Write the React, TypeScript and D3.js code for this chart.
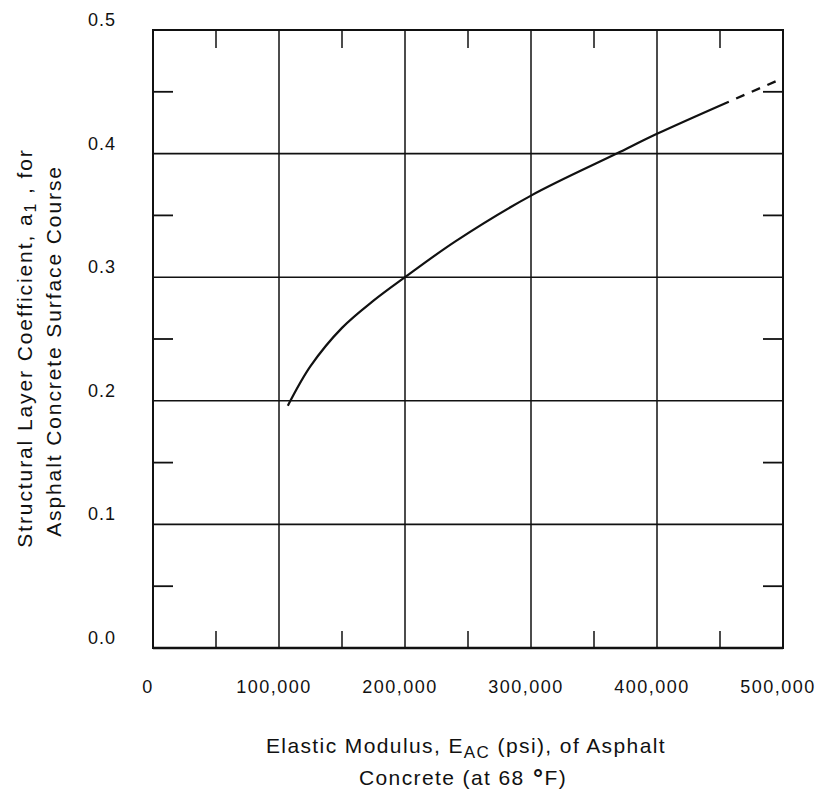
import React from "react";
import * as d3 from "d3";

// values
const modulusSolid = [107000, 125000, 150000, 175000, 200000, 240000, 300000, 368000, 400000, 457000];
const coefSolid = [0.196, 0.228, 0.259, 0.281, 0.3, 0.329, 0.366, 0.4, 0.416, 0.442];
const modulusDashed = [457000, 500000];
const coefDashed = [0.442, 0.461];

const xMajor = [0, 100000, 200000, 300000, 400000, 500000];
const xMinor = [50000, 150000, 250000, 350000, 450000];
const xTickLabels = ["0", "100,000", "200,000", "300,000", "400,000", "500,000"];
const yMajor = [0, 0.1, 0.2, 0.3, 0.4, 0.5];
const yMinor = [0.05, 0.15, 0.25, 0.35, 0.45];
const yTickLabels = ["0.0", "0.1", "0.2", "0.3", "0.4", "0.5"];

const W = 819;
const H = 794;
const font = "'Liberation Sans', Arial, Helvetica, sans-serif";
const ink = "#111";

const App = () => {
    const x = d3.scaleLinear().domain([0, 500000]).range([153, 783]);
    const y = d3.scaleLinear().domain([0, 0.5]).range([648, 30]);

    const line = d3
        .line<number>()
        .x((d, i) => x(modulusSolid[i]))
        .y((d) => y(d))
        .curve(d3.curveCatmullRom.alpha(0.5));

    const dashLine = d3
        .line<number>()
        .x((d, i) => x(modulusDashed[i]))
        .y((d) => y(d));

    const [x0, x1] = x.range();
    const [y0, y1] = y.range();

    return (
        <svg width={W} height={H} style={{ position: "absolute", left: 0, top: 0, background: "#fff" }}>
            {/* grid */}
            {xMajor.slice(1, -1).map((v) => (
                <line key={"gx" + v} x1={x(v)} x2={x(v)} y1={y1} y2={y0} stroke={ink} strokeWidth={1.5} />
            ))}
            {yMajor.slice(1, -1).map((v) => (
                <line key={"gy" + v} x1={x0} x2={x1} y1={y(v)} y2={y(v)} stroke={ink} strokeWidth={1.6} />
            ))}

            {/* minor ticks on all four sides */}
            {xMinor.map((v) => (
                <g key={"mx" + v} stroke={ink} strokeWidth={1.5}>
                    <line x1={x(v)} x2={x(v)} y1={y0} y2={y0 - 17} />
                    <line x1={x(v)} x2={x(v)} y1={y1} y2={y1 + 18} />
                </g>
            ))}
            {yMinor.map((v) => (
                <g key={"my" + v} stroke={ink} strokeWidth={1.8}>
                    <line x1={x0} x2={x0 + 20} y1={y(v)} y2={y(v)} />
                    <line x1={x1} x2={x1 - 20} y1={y(v)} y2={y(v)} />
                </g>
            ))}

            {/* frame */}
            <rect x={x0} y={y1} width={x1 - x0} height={y0 - y1} fill="none" stroke={ink} strokeWidth={2} />
            <line x1={x0} x2={x1} y1={y0} y2={y0} stroke={ink} strokeWidth={2.6} />

            {/* curve */}
            <path d={line(coefSolid) || ""} fill="none" stroke={ink} strokeWidth={2.2} />
            <path
                d={dashLine(coefDashed) || ""}
                fill="none"
                stroke={ink}
                strokeWidth={2.4}
                strokeDasharray="9,8"
                strokeDashoffset={9}
            />

            {/* tick labels */}
            {yMajor.map((v, i) => (
                <text
                    key={"ty" + v}
                    x={116}
                    y={y(v) - 4}
                    textAnchor="end"
                    fontFamily={font}
                    fontSize={18}
                    style={{ letterSpacing: "1px" }}
                    fill={ink}
                >
                    {yTickLabels[i]}
                </text>
            ))}
            {xMajor.map((v, i) => (
                <text
                    key={"tx" + v}
                    x={x(v) - 5}
                    y={693}
                    textAnchor="middle"
                    fontFamily={font}
                    fontSize={18}
                    style={{ letterSpacing: "1.5px" }}
                    fill={ink}
                >
                    {xTickLabels[i]}
                </text>
            ))}

            {/* x axis title */}
            <g fontFamily={font} fontSize={21} fill={ink} style={{ letterSpacing: "1.4px" }}>
                <text x={466} y={753} textAnchor="middle">
                    Elastic Modulus, E
                    <tspan fontSize={17} dy={5}>AC</tspan>
                    <tspan dy={-5}> (psi), of Asphalt</tspan>
                </text>
                <text x={463} y={785} textAnchor="middle">
                    Concrete (at 68
                    <tspan fontSize={25} dy={2} fontWeight="bold"> °</tspan>
                    <tspan dy={-2}>F)</tspan>
                </text>
            </g>

            {/* y axis title */}
            <g fontFamily={font} fontSize={21} fill={ink} style={{ letterSpacing: "1.9px" }}>
                <text transform="translate(32,348) rotate(-90)" textAnchor="middle">
                    Structural Layer Coefficient, a
                    <tspan fontSize={16} dy={4}>1</tspan>
                    <tspan dy={-4}> , for</tspan>
                </text>
                <text transform="translate(61,351) rotate(-90)" textAnchor="middle">
                    Asphalt Concrete Surface Course
                </text>
            </g>
        </svg>
    );
};

export default App;
